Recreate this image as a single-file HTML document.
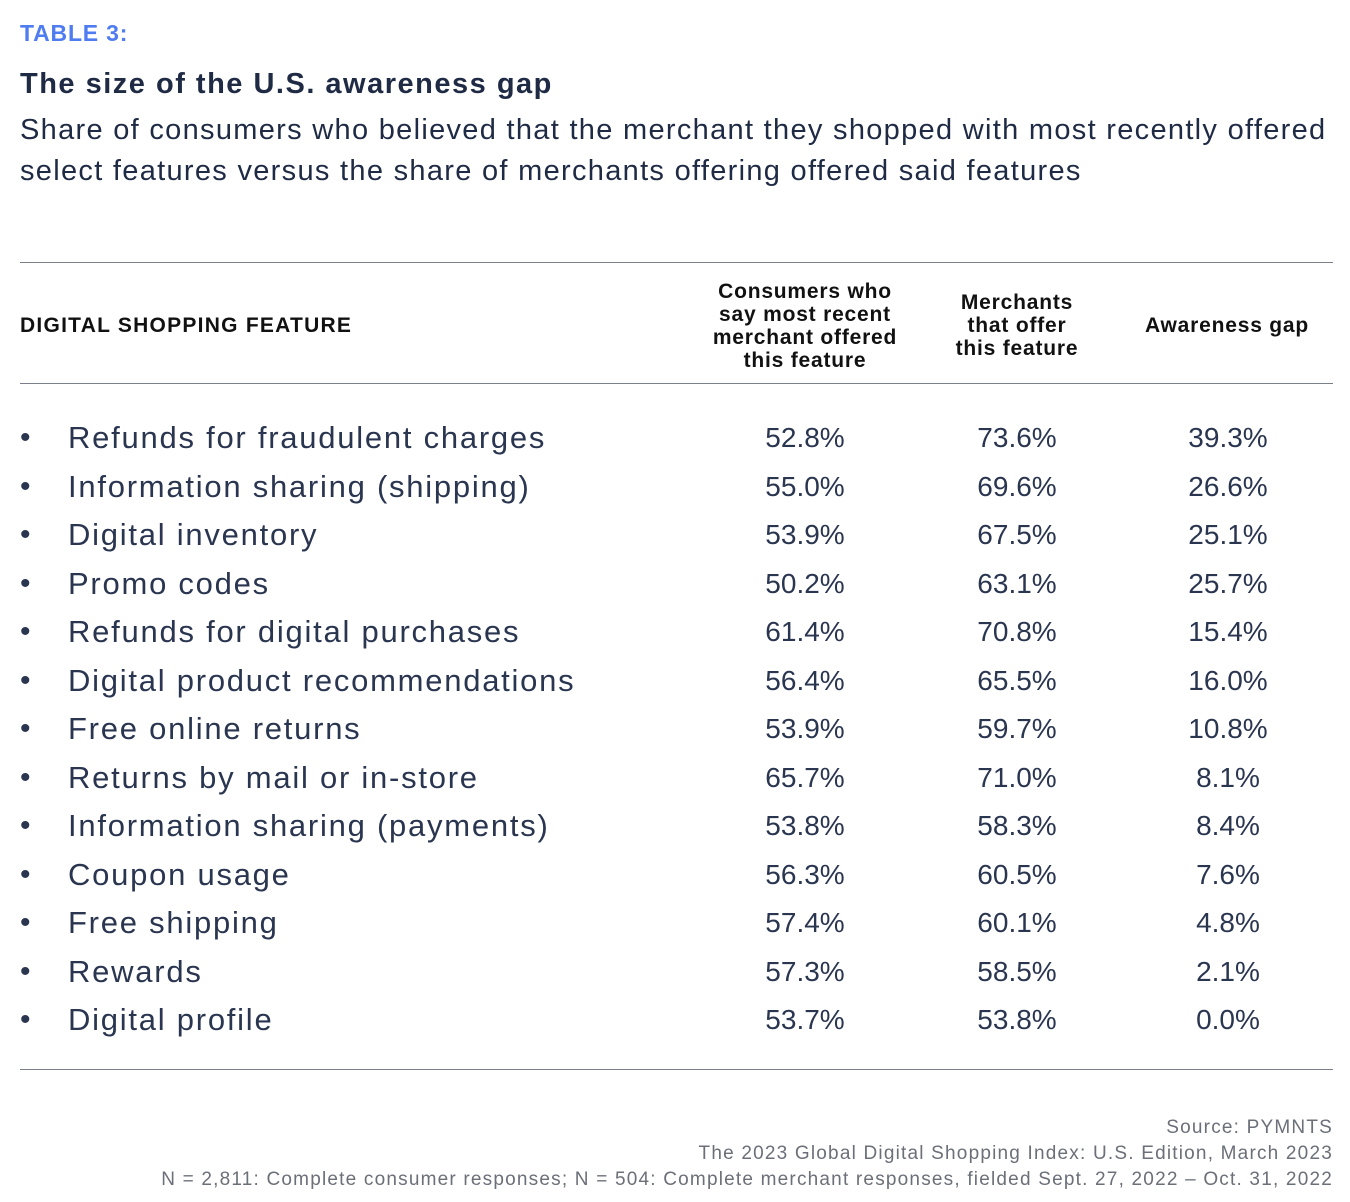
<!DOCTYPE html>
<html><head><meta charset="utf-8"><style>
body{margin:0;width:1350px;height:1202px;background:#fff;font-family:"Liberation Sans",sans-serif;color:#1f2a44;position:relative;overflow:hidden}
.a{position:absolute;white-space:nowrap}
.hr{position:absolute;left:20px;width:1313px;height:1px;background:#7a7f8a}
.h{font-weight:bold;font-size:21px;text-align:center;line-height:23px;color:#111;letter-spacing:0.8px}
.r{font-size:30px;color:#2a3550}
.n{font-size:28px;color:#2a3550;width:200px;text-align:center}
.f{font-size:19px;color:#6b6f78;right:17px;text-align:right;letter-spacing:1.2px}
</style></head><body>
<div class="a" style="left:20px;top:20px;font-size:23px;font-weight:bold;color:#4f7cf0;letter-spacing:0.8px">TABLE 3:</div>
<div class="a" style="left:20px;top:68px;font-size:29px;font-weight:bold;color:#1f2a44;letter-spacing:1.5px">The size of the U.S. awareness gap</div>
<div class="a" style="left:20px;top:110px;font-size:29px;color:#1f2a44;line-height:41px;letter-spacing:1.3px">Share of consumers who believed that the merchant they shopped with most recently offered<br>select features versus the share of merchants offering offered said features</div>
<div class="hr" style="top:262px"></div>
<div class="a h" style="left:20px;top:314px;letter-spacing:1.25px">DIGITAL SHOPPING FEATURE</div>
<div class="a h" style="left:690px;top:280px;width:230px">Consumers who<br>say most recent<br>merchant offered<br>this feature</div>
<div class="a h" style="left:917px;top:291px;width:200px">Merchants<br>that offer<br>this feature</div>
<div class="a h" style="left:1127px;top:314px;width:200px">Awareness gap</div>
<div class="hr" style="top:383px"></div>
<div id="rows"></div>
<div class="hr" style="top:1069px"></div>
<div class="a f" style="top:1117px">Source: PYMNTS</div>
<div class="a f" style="top:1143px">The 2023 Global Digital Shopping Index: U.S. Edition, March 2023</div>
<div class="a f" style="top:1169px">N = 2,811: Complete consumer responses; N = 504: Complete merchant responses, fielded Sept. 27, 2022 – Oct. 31, 2022</div>
<script>
var d=[["Refunds for fraudulent charges","52.8%","73.6%","39.3%"],["Information sharing (shipping)","55.0%","69.6%","26.6%"],["Digital inventory","53.9%","67.5%","25.1%"],["Promo codes","50.2%","63.1%","25.7%"],["Refunds for digital purchases","61.4%","70.8%","15.4%"],["Digital product recommendations","56.4%","65.5%","16.0%"],["Free online returns","53.9%","59.7%","10.8%"],["Returns by mail or in-store","65.7%","71.0%","8.1%"],["Information sharing (payments)","53.8%","58.3%","8.4%"],["Coupon usage","56.3%","60.5%","7.6%"],["Free shipping","57.4%","60.1%","4.8%"],["Rewards","57.3%","58.5%","2.1%"],["Digital profile","53.7%","53.8%","0.0%"]];
var h="";d.forEach(function(r,i){var y=420+i*48.5;
h+='<div class="a r" style="left:20px;top:'+(y+1)+'px">•</div><div class="a r" style="left:68px;top:'+y+'px;font-size:31px;letter-spacing:1.75px">'+r[0]+'</div>';
h+='<div class="a n" style="left:705px;top:'+(y+2)+'px">'+r[1]+'</div><div class="a n" style="left:917px;top:'+(y+2)+'px">'+r[2]+'</div><div class="a n" style="left:1128px;top:'+(y+2)+'px">'+r[3]+'</div>';});
document.getElementById("rows").innerHTML=h;
</script>
</body></html>
